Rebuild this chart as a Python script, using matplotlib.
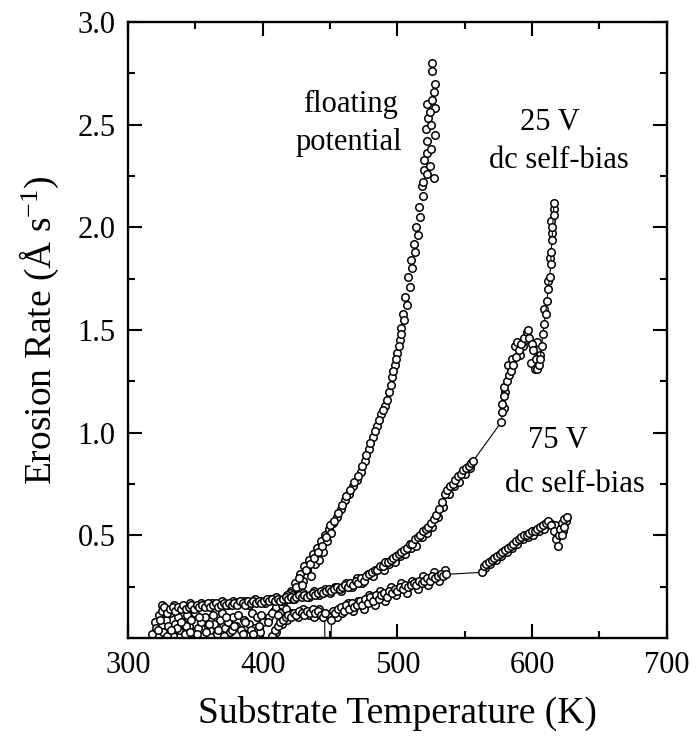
import matplotlib
matplotlib.use("Agg")
import matplotlib.pyplot as plt

plt.rcParams["font.family"] = ["Liberation Serif", "DejaVu Serif"]
plt.rcParams["mathtext.fontset"] = "custom"
plt.rcParams["mathtext.rm"] = "Liberation Serif"
plt.rcParams["mathtext.it"] = "Liberation Serif:italic"

# floating potential: noisy low part, then steep rise
fp_T = [318, 320, 321, 323, 325, 326, 328, 330, 331, 333, 335, 337, 338, 340, 342,
        344, 345, 347, 349, 350, 352, 354, 356, 357, 359, 361, 363, 365, 366, 368,
        370, 372, 374, 376, 378, 380, 382, 384, 386, 388, 390, 392, 394, 396, 398, 400,
        322, 329, 336, 343, 351, 358, 364, 371, 377, 385, 391, 397,
        405, 408, 410, 413, 415, 418, 421, 423, 424, 426, 428, 430, 431, 433, 434, 436,
        437, 439, 440, 442, 443, 445, 446, 448, 449, 451, 452, 455, 458, 461, 464, 467,
        470, 473, 476, 479, 482, 485, 488, 491, 494, 496, 498, 500, 502, 503, 504.5,
        506, 508, 510, 512, 514, 516, 518, 520, 522, 519, 522, 524, 527, 520, 525,
        522, 528, 521, 523, 528, 522, 524, 526, 527, 525, 528, 526, 526]
fp_E = [0.02, 0.08, 0.05, 0.11, 0.16, 0.03, 0.09, 0.06, 0.12, 0.01, 0.07, 0.10, 0.04, 0.08, 0.02,
        0.11, 0.06, 0.09, 0.03, 0.12, 0.05, 0.08, 0.01, 0.10, 0.06, 0.04, 0.11, 0.07, 0.02, 0.09,
        0.12, 0.05, 0.08, 0.03, 0.10, 0.06, 0.11, 0.04, 0.09, 0.02, 0.07, 0.12, 0.05, 0.10, 0.03, 0.08,
        0.04, 0.01, 0.05, 0.06, 0.02, 0.03, 0.07, 0.01, 0.04, 0.02, 0.04, 0.06,
        0.10, 0.13, 0.15, 0.12, 0.17, 0.20, 0.23, 0.19, 0.27, 0.24, 0.31, 0.28, 0.35, 0.33, 0.38, 0.30,
        0.41, 0.36, 0.44, 0.38, 0.47, 0.42, 0.50, 0.47, 0.53, 0.51, 0.56, 0.59, 0.63, 0.67, 0.70, 0.74,
        0.77, 0.81, 0.86, 0.92, 0.98, 1.03, 1.09, 1.13, 1.20, 1.27, 1.33, 1.39, 1.45, 1.51, 1.58,
        1.66, 1.76, 1.84, 1.92, 2.00, 2.10, 2.20, 2.28, 2.36, 2.22, 2.26, 2.30, 2.24, 2.33, 2.38,
        2.42, 2.45, 2.48, 2.53, 2.58, 2.60, 2.56, 2.62, 2.66, 2.50, 2.70, 2.76, 2.80]
# extra floating-potential readings (second pass over the same run)
fpx_T = [404, 407, 411, 414, 417, 420, 422, 425, 427, 429, 432, 435, 438, 441, 444,
         447, 450, 453, 456, 459, 462, 465, 468, 471, 474, 477, 480, 483, 486, 489,
         492, 495, 497, 499, 501, 503, 505, 507, 509, 511, 513, 515, 517, 519,
         324, 332, 339, 346, 353, 360, 367, 373, 379, 387, 393, 399]
fpx_E = [0.08, 0.12, 0.11, 0.16, 0.14, 0.22, 0.21, 0.25, 0.29, 0.26, 0.33, 0.36, 0.39, 0.42, 0.45,
         0.49, 0.55, 0.57, 0.61, 0.65, 0.69, 0.72, 0.76, 0.79, 0.84, 0.89, 0.95, 1.01, 1.06, 1.11,
         1.16, 1.23, 1.30, 1.36, 1.42, 1.48, 1.55, 1.62, 1.71, 1.80, 1.88, 1.96, 2.05, 2.15,
         0.09, 0.04, 0.08, 0.03, 0.10, 0.07, 0.04, 0.10, 0.06, 0.08, 0.02, 0.11]

# 25 V dc self-bias
v25_T = [325, 327, 329, 331, 333, 335, 337, 339, 341, 343, 345, 347, 349, 351, 353,
         355, 357, 359, 361, 363, 365, 367, 369, 371, 373, 375, 377, 379, 381, 383,
         385, 387, 389, 391, 393, 395, 397, 399, 401, 403, 405, 407, 409, 411, 413,
         415, 417, 419, 421, 423, 425, 427, 429, 431, 433, 435, 437, 439, 441, 443,
         445, 447, 449, 451, 453, 455, 457, 459, 461, 463, 465, 467, 469, 471, 473,
         475, 477, 479, 481, 483, 485, 487, 489, 491, 493, 495, 497, 499, 501, 503,
         505, 507, 509, 511, 513, 515, 517, 519, 521, 523, 525, 527, 529, 531, 533,
         535, 537, 539, 541, 543, 545, 547, 549, 551, 553, 555, 556,
         577, 578, 578, 579, 579, 581, 583, 584, 586, 588, 590, 592, 594, 596, 597,
         598, 600, 601, 603, 604, 605, 606, 607, 608, 609, 610, 611, 612, 613, 614,
         614, 615, 615, 616, 616]
v25_E = [0.13, 0.15, 0.12, 0.14, 0.15, 0.13, 0.15, 0.14, 0.16, 0.14, 0.15, 0.16, 0.14, 0.16, 0.15,
         0.16, 0.15, 0.17, 0.15, 0.16, 0.17, 0.15, 0.16, 0.17, 0.16, 0.17, 0.16, 0.17, 0.16, 0.18,
         0.17, 0.16, 0.18, 0.17, 0.18, 0.17, 0.18, 0.17, 0.18, 0.19, 0.18, 0.19, 0.18, 0.19, 0.18,
         0.19, 0.20, 0.19, 0.20, 0.19, 0.20, 0.21, 0.20, 0.21, 0.20, 0.21, 0.22, 0.21, 0.22, 0.23,
         0.22, 0.23, 0.24, 0.23, 0.24, 0.25, 0.24, 0.25, 0.26, 0.25, 0.27, 0.26, 0.28, 0.27, 0.29,
         0.28, 0.30, 0.31, 0.32, 0.33, 0.33, 0.35, 0.35, 0.37, 0.37, 0.38, 0.39, 0.40, 0.41, 0.42,
         0.43, 0.44, 0.46, 0.46, 0.48, 0.49, 0.50, 0.52, 0.53, 0.54, 0.56, 0.58, 0.60, 0.63, 0.66,
         0.70, 0.72, 0.74, 0.75, 0.77, 0.79, 0.80, 0.82, 0.83, 0.84, 0.85, 0.86,
         1.05, 1.10, 1.14, 1.18, 1.22, 1.25, 1.28, 1.30, 1.33, 1.37, 1.40, 1.43, 1.46, 1.49, 1.50,
         1.46, 1.43, 1.40, 1.36, 1.31, 1.33, 1.36, 1.42, 1.48, 1.53, 1.58, 1.64, 1.70, 1.76, 1.82,
         1.88, 1.94, 2.00, 2.06, 2.12]
v25x_T = [326, 330, 334, 338, 342, 346, 350, 354, 358, 362, 366, 370, 374, 378, 382,
          386, 390, 394, 398, 402, 406, 410, 414, 418, 422, 426, 430, 434, 438, 442,
          446, 450, 454, 458, 462, 466, 470, 474, 478, 482, 486, 490, 494, 498, 502,
          506, 510, 514, 518, 522, 526, 530, 534, 538, 542, 546, 550, 554,
          579, 580, 582, 585, 587, 589, 591, 593, 595, 599, 602, 604, 606, 604, 609,
          612, 613, 615, 614, 616]
v25x_E = [0.14, 0.13, 0.16, 0.15, 0.15, 0.17, 0.15, 0.17, 0.16, 0.17, 0.16, 0.18, 0.16, 0.18, 0.17,
          0.18, 0.16, 0.19, 0.18, 0.17, 0.19, 0.20, 0.18, 0.21, 0.19, 0.21, 0.22, 0.20, 0.23, 0.21,
          0.24, 0.22, 0.25, 0.23, 0.27, 0.25, 0.29, 0.27, 0.31, 0.30, 0.34, 0.33, 0.36, 0.37, 0.40,
          0.41, 0.44, 0.45, 0.49, 0.51, 0.54, 0.59, 0.64, 0.70, 0.74, 0.76, 0.80, 0.83,
          1.12, 1.20, 1.33, 1.36, 1.42, 1.44, 1.38, 1.42, 1.45, 1.34, 1.31, 1.40, 1.38, 1.44, 1.60,
          1.74, 1.85, 1.97, 2.03, 2.09]

# 75 V dc self-bias (dip below zero near 448 K is clipped by the axis)
v75_T = [407, 409, 411, 413, 415, 417, 419, 421, 423, 425, 427, 429, 431, 433, 435,
         437, 439, 441, 443, 445, 446, 446.5, 449.5, 451,
         452, 454, 456, 458, 460, 462, 464, 466, 468, 470, 472, 474, 476, 478, 480,
         482, 484, 486, 488, 490, 492, 494, 496, 498, 500, 502, 504, 506, 508, 510,
         512, 514, 516, 518, 520, 522, 524, 526, 528, 530, 532, 534, 536,
         563, 564, 566, 568, 570, 572, 574, 576, 578, 580, 582, 584, 586, 588, 590,
         592, 594, 596, 598, 600, 602, 604, 606, 608, 610, 612, 614, 616, 618, 619,
         620, 621, 622, 624, 626, 624, 622]
v75_E = [0.01, 0.04, 0.06, 0.08, 0.09, 0.10, 0.11, 0.10, 0.12, 0.11, 0.13, 0.12, 0.11, 0.13, 0.12,
         0.14, 0.12, 0.13, 0.11, 0.10, 0.12, -0.5, -0.5, 0.09,
         0.13, 0.12, 0.14, 0.15, 0.13, 0.16, 0.14, 0.17, 0.15, 0.16, 0.18, 0.16, 0.19, 0.17, 0.20,
         0.18, 0.21, 0.19, 0.21, 0.22, 0.20, 0.23, 0.22, 0.24, 0.23, 0.25, 0.24, 0.26, 0.25, 0.26,
         0.27, 0.26, 0.28, 0.27, 0.28, 0.29, 0.28, 0.30, 0.29, 0.30, 0.31, 0.30, 0.31,
         0.32, 0.35, 0.36, 0.37, 0.38, 0.39, 0.40, 0.41, 0.42, 0.43, 0.44, 0.45, 0.46, 0.47, 0.48,
         0.49, 0.50, 0.50, 0.51, 0.52, 0.52, 0.53, 0.54, 0.55, 0.56, 0.57, 0.55, 0.52, 0.48, 0.45,
         0.50, 0.53, 0.56, 0.58, 0.59, 0.54, 0.50]
v75x_T = [410, 414, 418, 422, 426, 430, 434, 438, 442, 455, 459, 463, 467, 471, 475,
          479, 483, 487, 491, 495, 499, 503, 507, 511, 515, 519, 523, 527, 531, 535,
          565, 569, 573, 577, 581, 585, 589, 593, 597, 601, 605, 609, 613, 617, 619,
          623, 625]
v75x_E = [0.03, 0.07, 0.09, 0.12, 0.10, 0.14, 0.11, 0.10, 0.14, 0.10, 0.12, 0.17, 0.13, 0.18, 0.14,
          0.21, 0.16, 0.23, 0.18, 0.25, 0.21, 0.27, 0.22, 0.28, 0.24, 0.30, 0.26, 0.32, 0.28, 0.33,
          0.34, 0.36, 0.38, 0.40, 0.42, 0.44, 0.46, 0.48, 0.49, 0.50, 0.52, 0.53, 0.56, 0.55, 0.50,
          0.52, 0.57]

fig = plt.figure(figsize=(6.96, 7.45), dpi=100)
ax = fig.add_axes([0.184, 0.1436, 0.774, 0.827])

mk = dict(marker="o", ms=5.4, mfc="white", mec="black", mew=1.1)
ax.plot(fp_T, fp_E, ls="none", **mk)
ax.plot(fpx_T, fpx_E, ls="none", **mk)
ax.plot(v25x_T, v25x_E, ls="none", **mk)
ax.plot(v75x_T, v75x_E, ls="none", **mk)
ax.plot(v25_T, v25_E, color="black", lw=0.8, **mk)
ax.plot(v75_T, v75_E, color="black", lw=0.8, **mk)

ax.set_xlim(300, 700)
ax.set_ylim(0, 3.0)
ax.set_xticks([300, 400, 500, 600, 700])
ax.set_xticks([350, 450, 550, 650], minor=True)
ax.set_yticks([0.5, 1.0, 1.5, 2.0, 2.5, 3.0])
ax.set_yticks([0.25, 0.75, 1.25, 1.75, 2.25, 2.75], minor=True)
ax.tick_params(which="both", direction="in", top=True, right=True, width=1.5,
               labelsize=22, colors="black")
ax.tick_params(which="major", length=10, pad=9)
ax.tick_params(which="minor", length=5)
for s in ax.spines.values():
    s.set_linewidth(1.7)

ax.set_xlabel("Substrate Temperature (K)", fontsize=27, labelpad=12)
ax.set_ylabel("Erosion Rate (Å s$^{\\mathrm{-1}}$)", fontsize=27, labelpad=12)

ax.text(465, 2.56, "floating", fontsize=22, ha="center", va="baseline")
ax.text(463.6, 2.377, "potential", fontsize=22, ha="center", va="baseline")
ax.text(613, 2.474, "25 V", fontsize=22, ha="center", va="baseline")
ax.text(619.6, 2.29, "dc self-bias", fontsize=22, ha="center", va="baseline")
ax.text(619, 0.925, "75 V", fontsize=22, ha="center", va="baseline")
ax.text(632, 0.71, "dc self-bias", fontsize=22, ha="center", va="baseline")

fig.savefig("out.png", dpi=100, facecolor="white")
